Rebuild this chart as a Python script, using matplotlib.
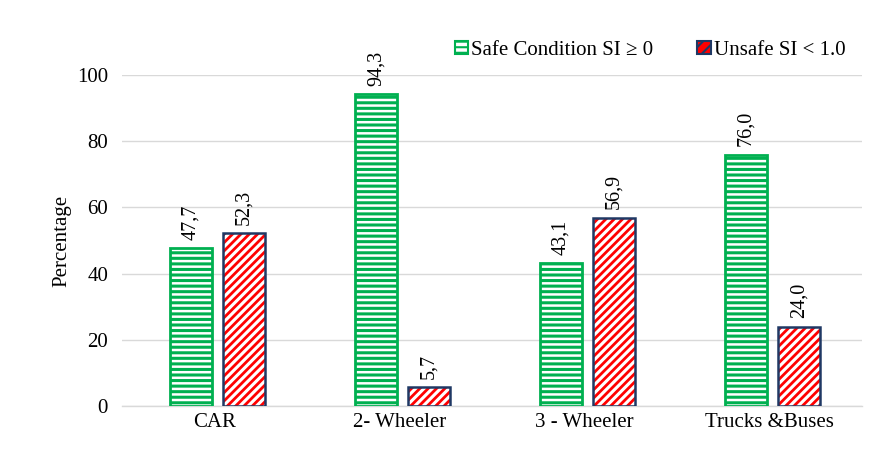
import numpy as np
import matplotlib.pyplot as plt
from matplotlib.patches import Patch

plt.rcParams['font.family'] = ['Liberation Serif', 'DejaVu Serif']

categories = ["CAR", "2- Wheeler", "3 - Wheeler", "Trucks &Buses"]
safe = [47.7, 94.3, 43.1, 76.0]
unsafe = [52.3, 5.7, 56.9, 24.0]
labels = ["Safe Condition SI \u2265 0", "Unsafe SI < 1.0"]

green = "#00B050"
red = "#FF0000"
navy = "#1F3864"

fig = plt.figure(figsize=(8.88, 4.69), dpi=100)
ax = fig.add_axes([122 / 888, 0.134, 740 / 888, 0.706])

x = np.arange(len(categories))
w = 0.227
xs = x - 0.127
xu = x + 0.16

# safe bars: horizontal green stripes
plt.rcParams['hatch.linewidth'] = 2.2
ax.bar(xs, safe, w, color="white", edgecolor=green, hatch="---", linewidth=0, zorder=2)
ax.bar(xs, safe, w, fill=False, edgecolor=green, linewidth=2, zorder=3)

# unsafe bars: red diagonal stripes, navy outline
plt.rcParams['hatch.linewidth'] = 2.0
ax.bar(xu, unsafe, w, color="white", edgecolor=red, hatch="////", linewidth=0, zorder=2)
ax.bar(xu, unsafe, w, fill=False, edgecolor=navy, linewidth=1.8, zorder=3)

for i in range(len(categories)):
    ax.text(xs[i], safe[i] + 2.5, f"{safe[i]:.1f}".replace(".", ","), rotation=90,
            ha="center", va="bottom", fontsize=14.5, clip_on=False)
    ax.text(xu[i], unsafe[i] + 2.5, f"{unsafe[i]:.1f}".replace(".", ","), rotation=90,
            ha="center", va="bottom", fontsize=14.5, clip_on=False)

ax.set_xlim(-0.5, 3.5)
ax.set_ylim(0, 100)
ax.set_yticks(range(0, 101, 20))
ax.set_xticks(x)
ax.set_xticklabels(categories, fontsize=15)
ax.tick_params(axis='y', labelsize=15, length=0, pad=10)
ax.tick_params(axis='x', length=0, pad=5)
ax.set_ylabel("Percentage", fontsize=15, labelpad=4)
ax.yaxis.grid(True, color="#D9D9D9", linewidth=1)
ax.set_axisbelow(True)
for s in ["top", "left", "right"]:
    ax.spines[s].set_visible(False)
ax.spines["bottom"].set_color("#D9D9D9")
ax.spines["bottom"].set_linewidth(1)

plt.rcParams['hatch.linewidth'] = 1.5
handles = [Patch(facecolor="white", edgecolor=green, hatch="---", linewidth=1.5),
           Patch(facecolor=red, edgecolor=navy, hatch="///", linewidth=1.5)]
leg = fig.legend(handles, labels, loc="center", bbox_to_anchor=(0.732, 0.893), ncol=2,
                 frameon=False, fontsize=15, handlelength=0.65, handleheight=0.65,
                 handletextpad=0.15, columnspacing=2.1)

fig.savefig("out.png", dpi=100)
